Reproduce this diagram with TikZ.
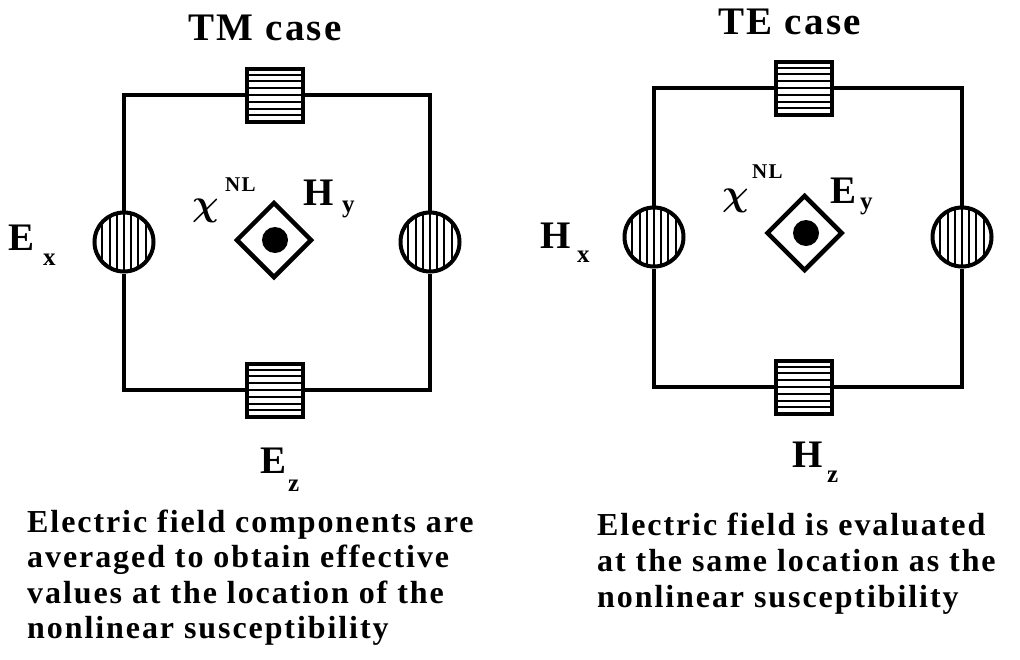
\documentclass[tikz,border=0pt]{standalone}
\usepackage{graphicx}
\usepackage{fontspec}
\setmainfont{Liberation Serif}[LetterSpace=6]
\usetikzlibrary{shapes.geometric}
\newcommand{\bchi}{\mbox{\mathversion{bold}\scalebox{3.7}{$\chi$}}}
\begin{document}
\begin{tikzpicture}[x=1pt,y=-1pt,
  wire/.style={line width=3.5pt},
  hbox/.style={draw, rectangle, line width=4pt, fill=white, minimum width=56pt, minimum height=53pt, inner sep=0pt,
    path picture={\foreach \k in {-3,...,3}{\draw[line width=2pt] ([yshift=\k*6.8pt]path picture bounding box.west) -- ([yshift=\k*6.8pt]path picture bounding box.east);}}},
  vcirc/.style={draw, circle, line width=4pt, fill=white, minimum size=59pt, inner sep=0pt,
    path picture={\foreach \k in {-3,...,3}{\draw[line width=2pt] ([xshift=\k*7.2pt]path picture bounding box.north) -- ([xshift=\k*7.2pt]path picture bounding box.south);}}},
  cell/.style={draw, diamond, aspect=1, line width=4.5pt, minimum size=76pt, inner sep=0pt},
  dotm/.style={circle, fill=black, minimum size=26pt, inner sep=0pt},
  ttl/.style={anchor=base west, inner sep=0pt, font=\fontsize{39}{40}\selectfont\bfseries},
  lbl/.style={anchor=base west, inner sep=0pt, font=\fontsize{39}{40}\selectfont\bfseries},
  subl/.style={anchor=base west, inner sep=0pt, font=\fontsize{25}{26}\selectfont\bfseries},
  supl/.style={anchor=base west, inner sep=0pt, font=\fontsize{21}{22}\selectfont\bfseries},
  chil/.style={anchor=base west, inner sep=0pt},
  body/.style={anchor=base west, inner sep=0pt, font=\fontsize{32}{36}\selectfont\bfseries}
]
\useasboundingbox (0,0) rectangle (1020,659);

% ---------- TM case ----------
\node[ttl] (tmt) at (188,40) {TM case};
\node[hbox] (tsqL) at (275,95) {};
\node[hbox] (bsqL) at (275,390) {};
\node[vcirc] (lcL) at (124,242) {};
\node[vcirc] (rcL) at (430,242) {};
\draw[wire] (tsqL.west) -| (lcL.north);
\draw[wire] (lcL.south) |- (bsqL.west);
\draw[wire] (bsqL.east) -| (rcL.south);
\draw[wire] (rcL.north) |- (tsqL.east);
\node[cell] (dmL) at (274,240) {};
\node[dotm] (dtL) at (275,240) {};
\node[chil] (chiL) at (192,215) {\bchi};
\node[supl] (nlL) at (225,191) {NL};
\node[lbl] (hyL) at (303,205) {H};
\node[subl] (hysL) at (342,212) {y};
\node[lbl] (exL) at (8,250) {E};
\node[subl] (exsL) at (43,265) {x};
\node[lbl] (ezL) at (260,473) {E};
\node[subl] (ezsL) at (288,491) {z};
\node[body] (l1) at (27,532) {Electric field components are};
\node[body] (l2) at (27,567.5) {averaged to obtain effective};
\node[body] (l3) at (27,603) {values at the location of the};
\node[body] (l4) at (27,638.5) {nonlinear susceptibility};

% ---------- TE case ----------
\node[ttl] (tet) at (718,34) {TE case};
\node[hbox] (tsqR) at (804,88) {};
\node[hbox] (bsqR) at (804,387) {};
\node[vcirc] (lcR) at (654,237) {};
\node[vcirc] (rcR) at (962,237) {};
\draw[wire] (tsqR.west) -| (lcR.north);
\draw[wire] (lcR.south) |- (bsqR.west);
\draw[wire] (bsqR.east) -| (rcR.south);
\draw[wire] (rcR.north) |- (tsqR.east);
\node[cell] (dmR) at (804.5,233) {};
\node[dotm] (dtR) at (806,233) {};
\node[chil] (chiR) at (722,205) {\bchi};
\node[supl] (nlR) at (752,178) {NL};
\node[lbl] (eyR) at (830,203) {E};
\node[subl] (eysR) at (860,209) {y};
\node[lbl] (hxR) at (540,248) {H};
\node[subl] (hxsR) at (577,262) {x};
\node[lbl] (hzR) at (792,467) {H};
\node[subl] (hzsR) at (827,482) {z};
\node[body] (r1) at (597,535) {Electric field is evaluated};
\node[body] (r2) at (597,571) {at the same location as the};
\node[body] (r3) at (597,607) {nonlinear susceptibility};
\end{tikzpicture}
\end{document}
